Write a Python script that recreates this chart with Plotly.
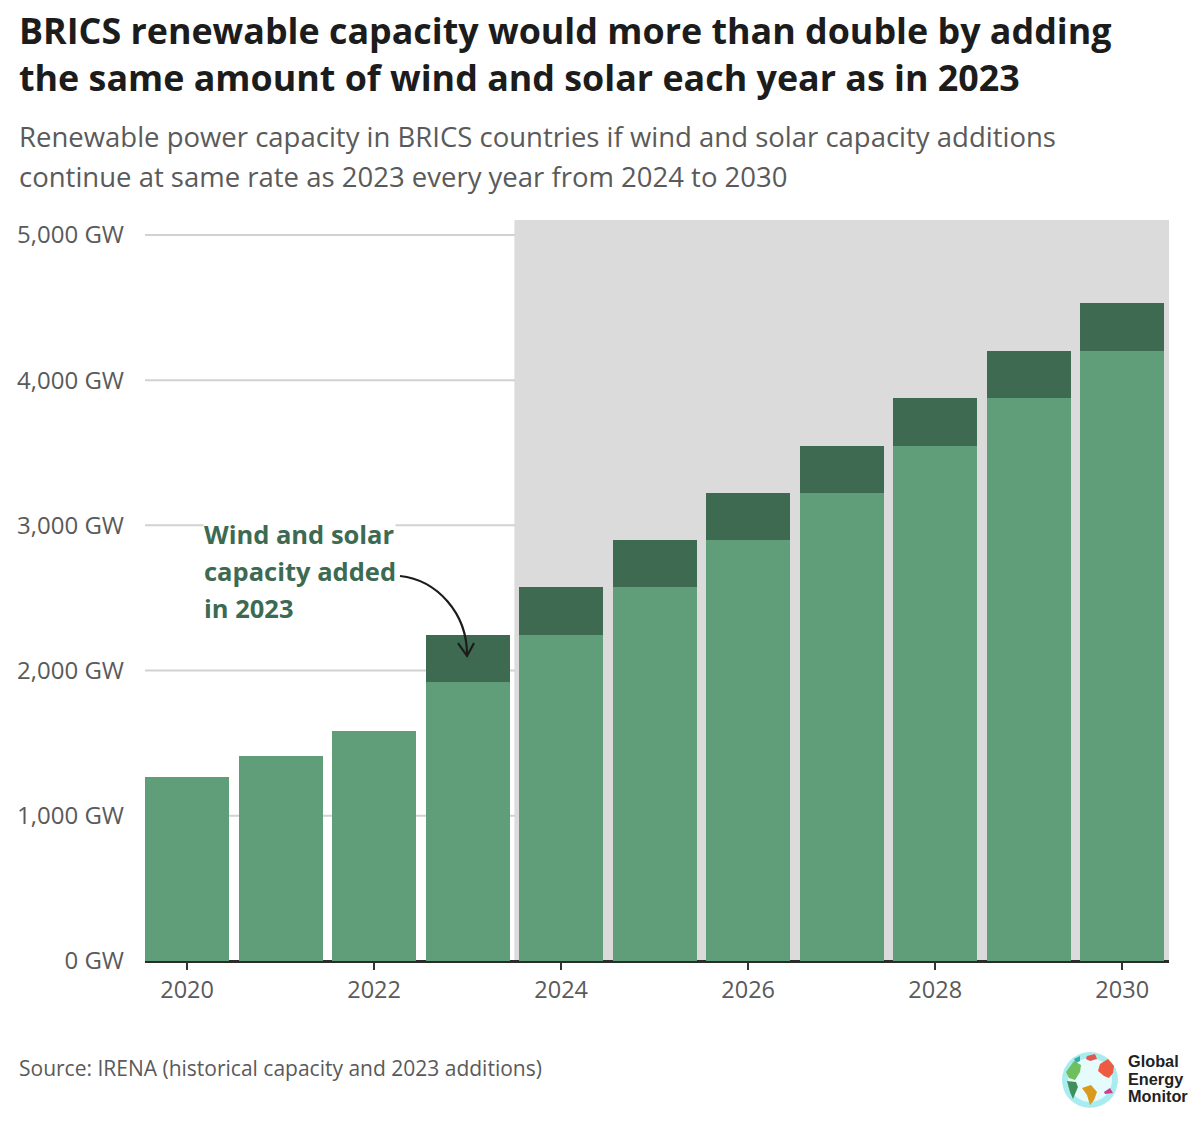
import plotly.graph_objects as go

years = list(range(2020, 2031))
base_capacity = [1267, 1412, 1584, 1921, 2245, 2576, 2899, 3223, 3547, 3877, 4201]
added_capacity = [0, 0, 0, 325, 331, 323, 324, 324, 330, 324, 331]
y_ticks = [0, 1000, 2000, 3000, 4000, 5000]
y_labels = ["0 GW", "1,000 GW", "2,000 GW", "3,000 GW", "4,000 GW", "5,000 GW"]
x_ticks = [2020, 2022, 2024, 2026, 2028, 2030]
x_labels = ["2020", "2022", "2024", "2026", "2028", "2030"]
title_lines = ["BRICS renewable capacity would more than double by adding",
               "the same amount of wind and solar each year as in 2023"]
subtitle_lines = ["Renewable power capacity in BRICS countries if wind and solar capacity additions",
                  "continue at same rate as 2023 every year from 2024 to 2030"]
note_lines = ["Wind and solar", "capacity added", "in 2023"]
source = "Source: IRENA (historical capacity and 2023 additions)"
logo_lines = ["Global", "Energy", "Monitor"]

L, R, T, B = 145, 1169, 220, 961
W, H = 1200, 1125
FONT = "Open Sans"
GREY_START = 2023.5
px = lambda x: (x - L) / (R - L)
py = lambda y: (B - y) / (B - T)


def path(points, close=True):
    d = "M" + " L".join(f"{px(x):.4f},{py(y):.4f}" for x, y in points)
    return d + (" Z" if close else "")


def text(x, y, s, size, color, bold=False, family=FONT, bg=None):
    return dict(xref="paper", yref="paper", x=px(x), y=py(y), text=f"<b>{s}</b>" if bold else s,
                showarrow=False, xanchor="left", yanchor="middle", align="left",
                font=dict(size=size, color=color, family=family),
                bgcolor=bg, borderpad=0)


fig = go.Figure()
fig.add_bar(x=years, y=base_capacity, marker=dict(color="#5f9e78", line_width=0), width=0.9,
            name="Capacity", showlegend=False)
fig.add_bar(x=years, y=added_capacity, marker=dict(color="#3f6a52", line_width=0), width=0.9,
            name="Added", showlegend=False)

shapes = [
    dict(type="rect", xref="x", yref="paper", x0=GREY_START, x1=2031, y0=0, y1=1, layer="below",
         fillcolor="#dbdbdb", line_width=0),
]
for v in y_ticks[1:]:
    shapes.append(dict(type="line", xref="paper", yref="y", x0=0, x1=px(515), y0=v, y1=v, layer="below",
                       line=dict(color="#d2d2d2", width=2)))
shapes += [
    dict(type="path", xref="paper", yref="paper", line=dict(color="#1c1c1c", width=2.2),
         path=f"M{px(400):.4f},{py(576):.4f} C{px(437):.4f},{py(580):.4f} {px(467):.4f},{py(613):.4f} {px(467):.4f},{py(655):.4f}"),
    dict(type="path", xref="paper", yref="paper", line=dict(color="#1c1c1c", width=2.2),
         path=path([(458, 643), (467, 656), (474, 643)], close=False)),
    # logo globe
    dict(type="circle", xref="paper", yref="paper", x0=px(1062), x1=px(1118), y0=py(1108), y1=py(1052),
         fillcolor="#a9ecf0", line_width=0),
    dict(type="circle", xref="paper", yref="paper", x0=px(1068), x1=px(1112), y0=py(1102), y1=py(1058),
         fillcolor="#e6fbfb", line_width=0),
]
continents = [
    ("#6fbf5f", [(1066, 1072), (1074, 1061), (1081, 1065), (1080, 1072), (1075, 1080), (1069, 1078)]),
    ("#3f8f5a", [(1067, 1081), (1076, 1082), (1078, 1087), (1073, 1099), (1070, 1092)]),
    ("#35b0a0", [(1074, 1059), (1080, 1056), (1080, 1061), (1076, 1063)]),
    ("#e0574f", [(1087, 1056), (1095, 1054), (1097, 1059), (1090, 1061), (1086, 1059)]),
    ("#ee5a42", [(1100, 1064), (1108, 1059), (1114, 1066), (1113, 1073), (1109, 1078), (1104, 1076), (1098, 1071)]),
    ("#d99a1e", [(1082, 1088), (1091, 1085), (1097, 1092), (1094, 1100), (1090, 1105), (1087, 1095)]),
    ("#cf3d8e", [(1104, 1092), (1110, 1088), (1113, 1093), (1105, 1094)]),
]
for colour, pts in continents:
    shapes.append(dict(type="path", xref="paper", yref="paper", path=path(pts),
                       fillcolor=colour, line_width=0))

annotations = [
    text(18, 30, title_lines[0], 35.85, "#1c1c1c", bold=True),
    text(18, 78, title_lines[1], 35.85, "#1c1c1c", bold=True),
    text(18, 136, subtitle_lines[0], 27.5, "#5a5a5a"),
    text(18, 176, subtitle_lines[1], 27.5, "#5a5a5a"),
    text(18, 1068, source, 21, "#5a5a5a"),
]
for i, s in enumerate(note_lines):
    annotations.append(text(203, 534 + 37 * i, s, 25.5, "#3d6a52", bold=True, bg="#ffffff" if i == 0 else None))
for i, s in enumerate(logo_lines):
    annotations.append(text(1127, 1061 + 17.5 * i, s, 16.3, "#222222", bold=True, family="Liberation Sans"))

fig.update_layout(
    width=W, height=H, barmode="stack", bargap=0.1, showlegend=False,
    margin=dict(l=L, r=W - R, t=T, b=H - B, pad=0),
    paper_bgcolor="#ffffff", plot_bgcolor="#ffffff",
    font=dict(family=FONT, color="#5a5a5a", size=23),
    shapes=shapes, annotations=annotations,
    xaxis=dict(range=[2019.55, 2030.5], tickmode="array", tickvals=x_ticks, ticktext=x_labels,
               ticks="outside", ticklen=8, tickwidth=1.5, tickcolor="#333333",
               showgrid=False, zeroline=False, showline=False, tickfont=dict(size=23.5, color="#5a5a5a")),
    yaxis=dict(range=[0, 5103], tickmode="array", tickvals=y_ticks, ticktext=y_labels,
               showgrid=False, zeroline=True, zerolinecolor="#2c2c2c",
               zerolinewidth=3, ticks="", ticklabelstandoff=20, tickfont=dict(size=24, color="#5a5a5a")),
)

fig.write_html("out.html", post_script="document.body.style.margin='0';", config={"displayModeBar": False})
